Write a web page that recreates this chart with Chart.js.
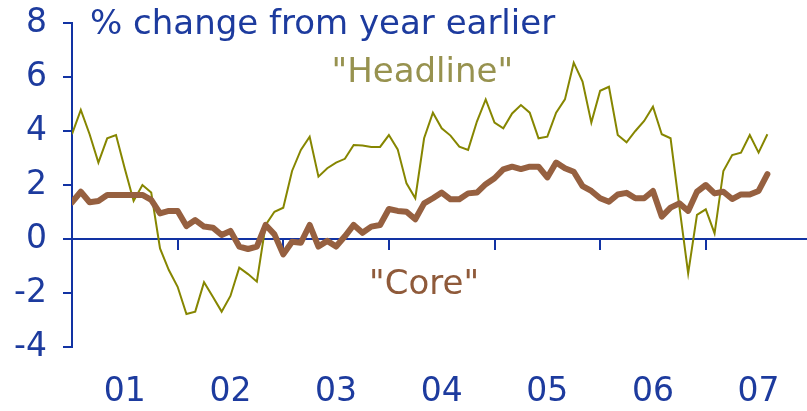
<!DOCTYPE html>
<html>
<head>
<meta charset="utf-8">
<script src="https://cdn.jsdelivr.net/npm/chart.js@4.4.0/dist/chart.umd.min.js"></script>
<style>
  html, body { margin: 0; padding: 0; background: #ffffff; }
  #wrap { width: 807px; height: 411px; }
</style>
</head>
<body>
<div id="wrap"><canvas id="grafico" width="807" height="411"></canvas></div>
<script>
// datos: mensual, ene 2001 - ago 2007
const years = ['01', '02', '03', '04', '05', '06', '07'];
const yTicks = [-4, -2, 0, 2, 4, 6, 8];

const headline = [
    3.88, 4.78, 3.88, 2.83, 3.73, 3.85, 2.6, 1.41, 2.0, 1.72, -0.35, -1.15,
    -1.77, -2.78, -2.69, -1.6, -2.14, -2.69, -2.11, -1.06, -1.3, -1.58, 0.52, 1.01,
    1.16, 2.52, 3.3, 3.79, 2.31, 2.62, 2.83, 2.97, 3.48, 3.46, 3.41, 3.41,
    3.85, 3.32, 2.06, 1.51, 3.73, 4.68, 4.1, 3.83, 3.42, 3.3, 4.35, 5.17,
    4.31, 4.1, 4.65, 4.96, 4.68, 3.73, 3.79, 4.68, 5.17, 6.53, 5.83, 4.31,
    5.49, 5.64, 3.85, 3.58, 4.0, 4.37, 4.9, 3.88, 3.73, 1.2, -1.27, 0.89,
    1.1, 0.21, 2.52, 3.11, 3.2, 3.85, 3.2, 3.88
];

const core = [
    1.36, 1.75, 1.36, 1.41, 1.63, 1.63, 1.63, 1.63, 1.63, 1.45, 0.95, 1.04,
    1.04, 0.48, 0.7, 0.46, 0.42, 0.15, 0.3, -0.28, -0.37, -0.28, 0.52, 0.17,
    -0.57, -0.1, -0.14, 0.52, -0.28, -0.07, -0.28, 0.1, 0.52, 0.23, 0.46, 0.52,
    1.11, 1.04, 1.01, 0.73, 1.32, 1.51, 1.72, 1.47, 1.47, 1.69, 1.72, 2.03,
    2.25, 2.58, 2.68, 2.59, 2.68, 2.68, 2.28, 2.83, 2.62, 2.49, 1.96, 1.78,
    1.51, 1.38, 1.65, 1.71, 1.51, 1.51, 1.78, 0.83, 1.16, 1.32, 1.04, 1.75,
    2.0, 1.69, 1.75, 1.48, 1.65, 1.65, 1.78, 2.4
];

const azul = '#1233a3';
const azulTexto = '#1d3b9e';
const fuente = 'DejaVu Sans, Verdana, sans-serif';
const xMax = 83.5;

// textos sobre el grafico (titulo y nombres de las series)
const textos = {
    id: 'textos',
    afterDatasetsDraw(chart) {
        const ctx = chart.ctx;
        const x = chart.scales.x;
        const y = chart.scales.y;
        ctx.save();
        ctx.textBaseline = 'middle';
        ctx.font = '34px ' + fuente;
        ctx.fillStyle = azulTexto;
        ctx.textAlign = 'left';
        ctx.fillText('% change from year earlier', chart.chartArea.left + 18, y.getPixelForValue(8) + 2);
        ctx.textAlign = 'center';
        ctx.fillStyle = '#97924f';
        ctx.fillText('"Headline"', x.getPixelForValue(39.8), y.getPixelForValue(6.15));
        ctx.fillStyle = '#8f5a3a';
        ctx.fillText('"Core"', x.getPixelForValue(40), y.getPixelForValue(-1.7));
        ctx.restore();
    }
};

const ctx = document.getElementById('grafico').getContext('2d');
const miGrafico = new Chart(ctx, {
    type: 'line',
    data: {
        datasets: [
            {
                label: 'Core',
                data: core.map((v, i) => ({ x: i, y: v })),
                borderColor: '#966040',
                borderWidth: 6,
                borderJoinStyle: 'round',
                borderCapStyle: 'round',
                pointRadius: 0,
                tension: 0,
                fill: false
            },
            {
                label: 'Headline',
                data: headline.map((v, i) => ({ x: i, y: v })),
                borderColor: '#868600',
                borderWidth: 2,
                pointRadius: 0,
                tension: 0,
                fill: false
            }
        ]
    },
    plugins: [textos],
    options: {
        responsive: false,
        devicePixelRatio: 1,
        animation: false,
        layout: { padding: { top: 23, right: 0, bottom: 0, left: 0 } },
        plugins: {
            legend: { display: false },
            tooltip: { enabled: false }
        },
        scales: {
            x: {
                type: 'linear',
                position: 'bottom',
                min: 0,
                max: xMax,
                grid: { display: false },
                border: { display: false },
                afterBuildTicks: (scale) => {
                    scale.ticks = years.map((_, i) => ({ value: 6 + 12 * i }));
                },
                afterFit: (scale) => { scale.height = 64; },
                ticks: {
                    color: azulTexto,
                    font: { family: fuente, size: 33 },
                    padding: 18,
                    maxRotation: 0,
                    autoSkip: false,
                    callback: (v) => years[Math.round((v - 6) / 12)]
                }
            },
            xz: {
                type: 'linear',
                axis: 'x',
                position: { y: 0 },
                min: 0,
                max: xMax,
                afterBuildTicks: (scale) => {
                    scale.ticks = years.map((_, i) => ({ value: 12 * i }));
                },
                grid: { drawOnChartArea: false, drawTicks: true, tickLength: 10, color: azul, lineWidth: 2 },
                border: { display: true, color: azul, width: 2 },
                ticks: { display: false }
            },
            y: {
                min: yTicks[0],
                max: yTicks[yTicks.length - 1],
                afterBuildTicks: (scale) => {
                    scale.ticks = yTicks.map(v => ({ value: v }));
                },
                afterFit: (scale) => {
                    scale.width = 72;
                    scale.paddingTop = 0;
                    scale.paddingBottom = 0;
                },
                grid: { drawOnChartArea: false, drawTicks: true, tickLength: 9, color: azul, lineWidth: 2 },
                border: { display: true, color: azul, width: 2 },
                ticks: {
                    color: azulTexto,
                    font: { family: fuente, size: 33 },
                    padding: 16
                }
            }
        }
    }
});
</script>
</body>
</html>
